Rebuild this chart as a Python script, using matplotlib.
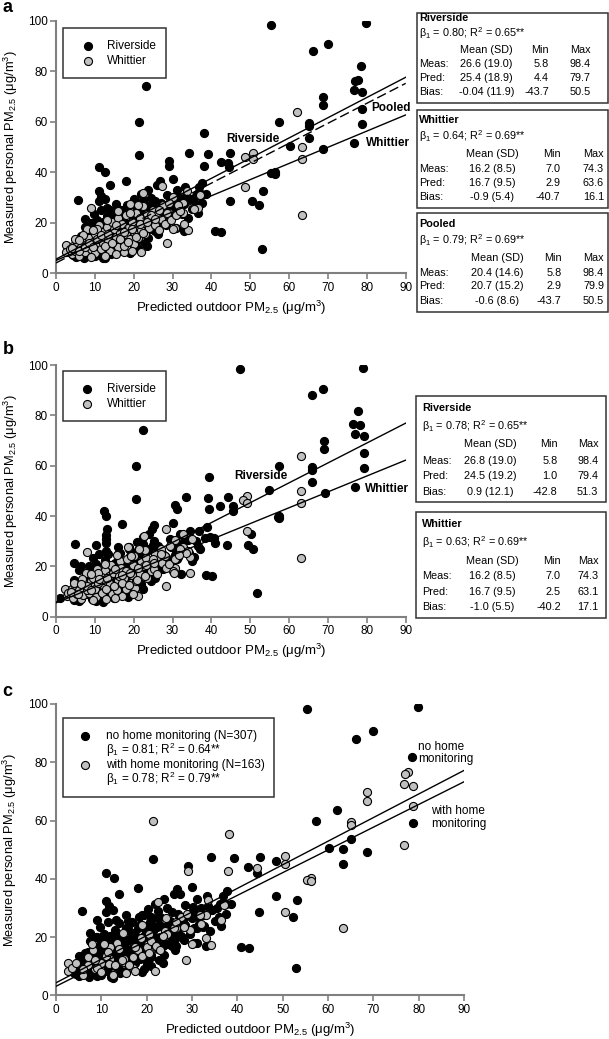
import matplotlib

matplotlib.use("Agg")
import matplotlib.pyplot as plt
from matplotlib.patches import Rectangle

plt.rcParams["font.family"] = ["Liberation Sans", "DejaVu Sans"]
plt.rcParams["mathtext.fontset"] = "custom"
plt.rcParams["mathtext.rm"] = "Liberation Sans"
plt.rcParams["mathtext.it"] = "Liberation Sans:italic"
plt.rcParams["mathtext.bf"] = "Liberation Sans:bold"

W, H = 609, 1039

# subjects: (predicted in a, predicted in b, measured, home monitoring)
riverside_outliers = [
    (55.3, 47.3, 98.3, 0), (79.8, 78.9, 98.9, 0), (70.0, 68.6, 90.6, 0),
    (66.1, 65.8, 88.0, 0), (78.5, 77.7, 81.9, 0), (77.6, 76.5, 76.5, 1),
    (77.0, 78.2, 76.1, 1), (76.8, 77.0, 72.6, 1), (78.7, 79.2, 71.8, 1),
    (68.7, 69.1, 69.7, 1), (68.7, 69.1, 66.6, 1), (78.8, 79.3, 65.0, 1),
    (57.3, 57.3, 59.8, 0), (65.0, 66.0, 59.6, 1), (65.0, 66.0, 58.4, 1),
    (78.7, 79.3, 59.2, 0), (21.4, 20.6, 60.0, 1), (23.1, 22.3, 74.0, 0),
    (21.3, 20.5, 46.8, 0), (38.1, 39.5, 55.4, 1), (60.2, 54.7, 50.4, 0),
    (65.0, 65.9, 53.6, 0), (68.7, 69.2, 49.2, 0), (76.8, 77.0, 51.5, 1),
    (34.3, 33.4, 47.6, 0), (39.2, 39.2, 47.2, 0), (44.9, 44.2, 47.6, 0),
    (42.4, 42.2, 44.1, 0), (44.3, 45.5, 43.8, 1), (44.4, 45.5, 42.1, 0),
    (38.0, 39.5, 42.6, 1), (29.1, 30.6, 44.5, 0), (29.2, 31.1, 42.6, 1),
    (30.0, 30.2, 37.2, 0), (26.7, 25.2, 36.4, 0), (26.1, 24.6, 34.8, 0),
    (56.3, 57.4, 40.1, 1), (55.3, 57.2, 39.6, 1), (56.3, 57.5, 39.2, 1),
    (50.5, 49.4, 28.5, 1), (53.2, 50.3, 32.7, 0), (52.2, 50.8, 26.9, 0),
    (44.7, 44.1, 28.5, 0), (40.8, 38.5, 16.6, 0), (42.5, 40.1, 16.2, 0),
    (52.9, 51.8, 9.5, 0), (11.0, 12.4, 42.0, 0), (12.7, 12.9, 40.1, 0),
    (13.9, 13.1, 34.8, 0), (5.7, 5.0, 28.9, 0), (18.0, 17.0, 36.7, 0),
    (15.5, 16.0, 27.6, 0), (8.8, 6.5, 20.1, 0), (11.1, 12.8, 32.5, 0),
    (11.7, 12.8, 30.7, 0), (11.0, 10.3, 28.5, 0), (12.6, 12.8, 29.4, 0),
    (14.0, 13.5, 24.9, 0), (37.7, 38.8, 35.8, 0), (36.8, 36.8, 34.0, 0),
    (33.2, 34.5, 34.2, 0), (36.2, 40.6, 31.4, 0), (37.4, 38.4, 31.4, 0),
    (34.5, 41.0, 29.4, 0), (36.5, 35.5, 23.7, 0), (33.0, 32.1, 16.8, 0),
    (25.5, 24.7, 16.8, 0), (26.2, 25.6, 15.4, 0), (23.5, 22.3, 11.0, 0),
    (21.0, 20.0, 9.9, 0), (12.2, 10.3, 6.2, 0), (5.1, 4.6, 6.6, 0),
    (4.4, 1.0, 7.4, 0), (7.2, 6.0, 6.2, 0), (22.5, 22.5, 29.0, 0),
    (22.5, 21.0, 26.4, 0), (23.8, 24.0, 33.0, 0), (23.1, 23.0, 23.7, 0),
    (30.2, 31.0, 29.0, 0), (31.1, 32.0, 33.0, 0), (7.5, 4.6, 21.5, 0),
    (6.5, 4.6, 14.6, 0), (28.2, 27.5, 19.0, 0), (31.0, 30.5, 17.8, 0),
    (26.2, 25.0, 19.2, 0), (32.5, 31.5, 23.6, 0),
]
riverside_cluster = [
    (6.0, 5.5, 13.5, 0), (7.0, 6.2, 10.5, 1), (7.5, 7.0, 14.6, 0), (8.0, 7.8, 12.0, 0),
    (8.5, 8.0, 9.0, 1), (9.0, 8.6, 16.0, 0), (9.5, 9.8, 13.0, 0), (10.0, 9.5, 18.5, 0),
    (10.0, 10.5, 11.0, 1), (10.5, 10.2, 21.0, 0), (10.8, 11.5, 14.0, 0), (11.2, 10.8, 8.5, 0),
    (11.5, 12.0, 17.0, 0), (12.0, 11.6, 12.5, 1), (12.0, 12.6, 20.5, 0), (12.5, 12.0, 15.5, 0),
    (13.0, 13.5, 10.0, 0), (13.0, 12.5, 22.5, 0), (13.5, 14.0, 18.0, 1), (13.8, 13.2, 13.5, 0),
    (14.2, 14.8, 7.5, 0), (14.5, 14.0, 20.0, 0), (15.0, 15.5, 16.0, 0), (15.0, 14.5, 11.5, 1),
    (15.5, 16.2, 23.0, 0), (16.0, 15.5, 19.0, 0), (16.2, 16.8, 14.0, 0), (16.8, 16.0, 25.0, 0),
    (17.0, 17.6, 9.5, 1), (17.2, 16.5, 21.5, 0), (17.5, 18.2, 17.0, 0), (18.0, 17.5, 12.5, 0),
    (18.5, 19.0, 24.0, 0), (18.8, 18.2, 19.5, 1), (19.0, 19.6, 15.0, 0), (19.5, 18.8, 27.5, 0),
    (19.8, 20.5, 22.0, 0), (20.0, 19.5, 10.5, 0), (20.3, 21.0, 17.5, 1), (20.8, 20.0, 25.0, 0),
    (21.0, 21.8, 13.0, 0), (21.5, 21.0, 20.5, 0), (21.8, 22.5, 31.5, 0), (22.0, 21.2, 16.5, 1),
    (22.3, 23.0, 23.5, 0), (22.8, 22.0, 12.0, 0), (23.0, 23.8, 27.0, 0), (23.3, 22.6, 19.0, 0),
    (23.8, 24.5, 14.0, 0), (24.0, 23.2, 22.0, 1), (24.5, 25.2, 30.0, 0), (24.8, 24.0, 17.5, 0),
    (25.2, 26.0, 25.5, 0), (25.8, 25.0, 21.0, 0), (26.5, 27.2, 23.0, 1), (27.0, 26.2, 28.0, 0),
    (27.5, 28.3, 20.5, 0), (28.0, 27.2, 25.5, 0), (28.5, 29.3, 31.0, 0), (29.5, 28.8, 22.5, 1),
    (30.0, 30.8, 26.5, 0), (31.5, 30.6, 24.5, 0), (32.0, 33.0, 30.0, 0), (33.0, 32.2, 27.5, 1),
    (34.0, 35.0, 22.0, 0), (35.0, 34.2, 25.5, 0), (36.0, 37.0, 27.0, 0), (37.5, 36.6, 28.0, 0),
    (38.5, 39.6, 31.5, 0), (10.0, 9.2, 7.0, 0), (12.5, 12.0, 6.0, 0), (15.5, 15.0, 8.5, 0),
    (19.0, 18.5, 8.0, 0), (7.5, 6.0, 18.5, 0), (9.0, 8.5, 20.0, 0),
    (6.5, 6.0, 11.0, 0), (8.2, 7.5, 15.5, 1), (9.2, 9.0, 10.0, 0), (10.3, 10.0, 16.0, 0),
    (11.8, 11.2, 10.8, 1), (12.8, 13.2, 17.5, 0), (14.0, 14.5, 14.5, 0), (14.8, 15.2, 21.5, 1),
    (16.5, 16.0, 11.0, 0), (17.8, 17.2, 20.0, 0), (19.2, 20.0, 17.5, 0), (20.5, 20.0, 21.0, 1),
    (21.2, 21.8, 24.0, 0), (22.5, 22.0, 19.5, 0), (23.5, 24.2, 17.0, 0), (24.2, 24.8, 26.5, 1),
    (25.5, 25.0, 28.5, 0), (26.0, 26.6, 20.5, 0), (27.2, 28.0, 24.0, 0), (29.0, 29.6, 27.5, 0),
    (30.5, 31.2, 23.0, 0), (31.8, 31.0, 27.5, 1), (33.5, 34.0, 30.5, 0), (35.5, 36.0, 30.0, 0),
    (13.2, 12.8, 26.0, 0), (15.8, 16.5, 25.5, 0), (18.2, 18.8, 27.0, 0), (20.2, 20.8, 29.5, 0),
    (9.8, 9.4, 23.5, 0), (11.5, 11.0, 25.0, 0),
]
whittier_outliers = [
    (62.0, 63.1, 63.7, 0), (63.2, 63.1, 50.1, 0), (63.3, 63.1, 45.1, 0),
    (63.3, 63.1, 23.2, 1), (50.6, 49.1, 47.8, 1), (48.6, 48.0, 46.2, 0),
    (50.6, 49.1, 45.1, 1), (48.6, 49.2, 34.0, 0), (28.6, 28.3, 12.0, 1),
    (27.3, 28.3, 34.7, 0), (22.5, 22.7, 31.9, 1), (9.0, 8.1, 25.7, 0),
    (33.6, 32.6, 32.7, 1), (32.6, 32.8, 27.7, 0), (32.6, 34.5, 23.7, 0),
    (34.1, 34.5, 17.2, 1), (30.2, 30.5, 30.3, 0), (21.8, 21.0, 8.4, 1),
    (2.7, 2.4, 11.1, 1), (2.7, 2.9, 8.3, 1), (17.5, 17.0, 8.4, 1),
    (37.0, 35.0, 31.0, 1), (36.5, 34.0, 26.0, 1), (35.5, 33.5, 25.5, 0),
    (28.2, 27.0, 23.6, 1), (33.0, 30.5, 19.5, 1), (30.5, 30.0, 18.0, 0),
]
whittier_cluster = [
    (3.5, 3.2, 9.5, 1), (4.0, 4.4, 7.5, 0), (4.5, 4.0, 11.0, 1), (5.0, 5.3, 9.0, 0),
    (5.5, 5.0, 12.5, 0), (6.0, 6.4, 7.0, 1), (6.5, 6.0, 10.5, 0), (7.0, 7.4, 13.0, 1),
    (7.5, 7.0, 8.5, 0), (8.0, 8.4, 11.5, 0), (8.0, 7.6, 17.5, 1), (8.5, 8.9, 14.0, 0),
    (9.0, 8.6, 9.5, 1), (9.5, 9.9, 12.5, 0), (10.0, 9.6, 15.5, 0), (10.0, 10.4, 8.0, 1),
    (10.5, 10.1, 11.0, 0), (11.0, 11.4, 13.5, 1), (11.0, 10.6, 19.0, 0), (11.5, 11.9, 9.5, 0),
    (12.0, 11.6, 16.5, 1), (12.0, 12.4, 12.0, 0), (12.5, 12.1, 14.5, 0), (13.0, 13.4, 10.5, 1),
    (13.0, 12.6, 18.5, 0), (13.5, 13.9, 13.0, 0), (14.0, 13.6, 16.0, 1), (14.0, 14.4, 9.0, 0),
    (14.5, 14.1, 20.5, 0), (15.0, 15.4, 12.5, 1), (15.0, 14.6, 17.5, 0), (15.5, 15.9, 14.5, 0),
    (16.0, 15.6, 10.5, 1), (16.0, 16.4, 22.0, 0), (16.5, 16.1, 16.0, 0), (17.0, 17.4, 13.0, 1),
    (17.0, 16.6, 19.5, 0), (17.5, 17.9, 11.0, 0), (18.0, 17.6, 15.5, 1), (18.0, 18.4, 23.0, 0),
    (18.5, 18.1, 18.0, 0), (19.0, 19.4, 13.5, 1), (19.0, 18.6, 27.5, 0), (19.5, 19.9, 20.5, 0),
    (20.0, 19.6, 16.5, 1), (20.0, 20.4, 11.5, 0), (20.5, 20.1, 24.0, 0), (21.0, 21.4, 18.5, 1),
    (21.0, 20.6, 14.0, 0), (21.5, 21.9, 22.0, 0), (22.0, 21.6, 17.0, 1), (22.5, 22.9, 26.5, 0),
    (23.0, 22.6, 20.0, 0), (23.0, 23.4, 15.5, 1), (23.5, 23.1, 23.5, 0), (24.0, 24.4, 18.0, 0),
    (24.5, 24.1, 21.0, 1), (25.0, 25.4, 25.0, 0), (25.5, 25.1, 19.0, 0), (26.0, 26.4, 23.0, 1),
    (26.5, 26.1, 17.0, 0), (27.0, 27.4, 21.5, 0), (27.5, 27.1, 27.0, 1), (28.0, 28.4, 19.5, 0),
    (28.5, 28.1, 24.0, 0), (29.0, 29.4, 28.0, 1), (29.5, 29.1, 21.0, 0), (30.0, 30.4, 17.5, 1),
    (31.0, 30.6, 23.0, 0), (31.5, 31.9, 27.0, 0), (32.0, 31.6, 24.5, 1), (12.5, 12.9, 7.0, 1),
    (9.0, 9.4, 6.5, 0), (15.5, 15.1, 7.5, 1), (19.5, 19.9, 9.0, 0), (7.0, 6.6, 15.0, 0),
    (10.5, 10.9, 17.5, 1), (5.0, 4.6, 13.5, 0),
    (4.0, 3.8, 10.0, 0), (6.0, 5.6, 9.0, 1), (7.5, 7.9, 10.5, 0), (8.5, 8.1, 12.0, 1),
    (9.5, 9.1, 10.5, 0), (10.5, 10.9, 13.5, 0), (11.5, 11.1, 15.0, 1), (12.5, 12.9, 11.0, 0),
    (13.5, 13.1, 15.5, 0), (14.5, 14.9, 12.0, 1), (15.5, 15.1, 19.0, 0), (16.5, 16.9, 13.5, 0),
    (17.5, 17.1, 16.5, 1), (18.5, 18.9, 12.5, 0), (19.5, 19.1, 17.5, 0), (20.5, 20.9, 14.5, 1),
    (21.5, 21.1, 19.5, 0), (22.5, 22.9, 16.0, 0), (23.5, 23.1, 20.5, 1), (24.5, 24.9, 23.0, 0),
    (25.5, 25.1, 21.5, 0), (26.5, 26.9, 25.0, 1), (13.0, 12.6, 21.0, 0), (16.0, 15.6, 24.5, 0),
    (19.0, 19.4, 24.0, 1), (21.0, 21.4, 27.0, 0), (9.5, 9.1, 17.0, 0), (6.0, 6.4, 13.0, 0),
]

# regression lines (intercept, slope)
fit_a_riverside = (5.6, 0.80)
fit_a_whittier = (5.1, 0.64)
fit_a_pooled = (4.1, 0.79)
fit_b_riverside = (5.8, 0.79)
fit_b_whittier = (5.5, 0.63)
fit_c_nohome = (4.3, 0.81)
fit_c_home = (3.1, 0.78)

row_names = ["Meas:", "Pred:", "Bias:"]
col_names = ["Mean (SD)", "Min", "Max"]
riverside_a_stats = [["26.6 (19.0)", "5.8", "98.4"], ["25.4 (18.9)", "4.4", "79.7"],
                     ["-0.04 (11.9)", "-43.7", "50.5"]]
whittier_a_stats = [["16.2 (8.5)", "7.0", "74.3"], ["16.7 (9.5)", "2.9", "63.6"],
                    ["-0.9 (5.4)", "-40.7", "16.1"]]
pooled_a_stats = [["20.4 (14.6)", "5.8", "98.4"], ["20.7 (15.2)", "2.9", "79.9"],
                  ["-0.6 (8.6)", "-43.7", "50.5"]]
riverside_b_stats = [["26.8 (19.0)", "5.8", "98.4"], ["24.5 (19.2)", "1.0", "79.4"],
                     ["0.9 (12.1)", "-42.8", "51.3"]]
whittier_b_stats = [["16.2 (8.5)", "7.0", "74.3"], ["16.7 (9.5)", "2.5", "63.1"],
                    ["-1.0 (5.5)", "-40.2", "17.1"]]

GRAY = "#c0c0c0"
XLAB = "Predicted outdoor PM$_{2.5}$ (μg/m$^3$)"
YLAB = "Measured personal PM$_{2.5}$ (μg/m$^3$)"
FS = 7.8

fig = plt.figure(figsize=(W / 100, H / 100), dpi=100)


def add_axes(left, top, right, bottom):
    ax = fig.add_axes([left / W, 1 - bottom / H, (right - left) / W, (bottom - top) / H])
    ax.set_xlim(0, 90)
    ax.set_ylim(0, 100)
    ax.set_xticks(range(0, 91, 10))
    ax.set_yticks(range(0, 101, 20))
    for s in ["top", "right"]:
        ax.spines[s].set_visible(False)
    for s in ["left", "bottom"]:
        ax.spines[s].set_color("#808080")
        ax.spines[s].set_linewidth(1.5)
    ax.tick_params(direction="out", length=4, width=1.2, color="#808080",
                   labelsize=8.5, pad=2)
    ax.set_xlabel(XLAB, fontsize=9.5)
    ax.set_ylabel(YLAB, fontsize=9.3)
    return ax


def scatter(ax, x, y, face):
    ax.scatter(x, y, s=34, c=face, edgecolors="black", linewidths=0.8, zorder=2)


def fit_line(ax, fit, **kw):
    a, b = fit
    ax.plot([0, 90], [a, a + b * 90], color="black", lw=1.0, zorder=3, **kw)


def fx(px):
    return px / W


def fy(py):
    return 1 - py / H


def box(left, top, right, bottom, fill=False):
    fig.patches.append(Rectangle((fx(left), fy(bottom)), fx(right) - fx(left),
                                 fy(top) - fy(bottom), transform=fig.transFigure,
                                 fill=fill, facecolor="white", edgecolor="#333333",
                                 lw=1.1))


def key(rows, left, top, right, bottom, mx, tx):
    box(left, top, right, bottom, fill=True)
    for py, face, label in rows:
        if face is not None:
            fig.lines.append(plt.Line2D([fx(mx)], [fy(py)], transform=fig.transFigure,
                                        marker="o", ms=5.8, mfc=face, mec="black",
                                        mew=0.8, ls="none"))
        fig.text(fx(tx), fy(py), label, fontsize=8.5, va="center", ha="left")


def table(title, fit_text, stats, frame, ys, cols):
    box(*frame)
    lx, mean_x, min_x, max_x = cols
    fig.text(fx(lx), fy(ys[0]), title, fontsize=FS, weight="bold", va="center")
    fig.text(fx(lx), fy(ys[1]), fit_text, fontsize=FS, va="center")
    fig.text(fx(mean_x), fy(ys[2]), col_names[0], fontsize=FS, va="center", ha="center")
    fig.text(fx(min_x), fy(ys[2]), col_names[1], fontsize=FS, va="center", ha="right")
    fig.text(fx(max_x), fy(ys[2]), col_names[2], fontsize=FS, va="center", ha="right")
    for name, vals, py in zip(row_names, stats, ys[3:]):
        fig.text(fx(lx), fy(py), name, fontsize=FS, va="center")
        fig.text(fx(mean_x), fy(py), vals[0], fontsize=FS, va="center", ha="center")
        fig.text(fx(min_x), fy(py), vals[1], fontsize=FS, va="center", ha="right")
        fig.text(fx(max_x), fy(py), vals[2], fontsize=FS, va="center", ha="right")


riverside = riverside_outliers + riverside_cluster
whittier = whittier_outliers + whittier_cluster
rs_xa, rs_xb, rs_y, rs_home = zip(*riverside)
wh_xa, wh_xb, wh_y, wh_home = zip(*whittier)

lab = dict(fontsize=8.5, weight="bold", va="center", clip_on=False)

# ---- panel a
ax = add_axes(56, 20.7, 405.7, 273.3)
ax.yaxis.set_label_coords(-0.104, 0.5)
ax.xaxis.set_label_coords(0.5, -0.1)
scatter(ax, rs_xa, rs_y, "black")
scatter(ax, wh_xa, wh_y, GRAY)
fit_line(ax, fit_a_riverside)
fit_line(ax, fit_a_pooled, ls=(0, (7, 3)))
fit_line(ax, fit_a_whittier)
ax.text(43.8, 53.2, "Riverside", **lab)
ax.text(81.2, 65.3, "Pooled", **lab)
ax.text(79.7, 51.7, "Whittier", **lab)
key([(45.7, "black", "Riverside"), (61.3, GRAY, "Whittier")], 63.3, 28.3, 166, 78.3, 87.7, 106.7)
fig.text(0.004, fy(7), "a", fontsize=13, weight="bold", va="center")

table("Riverside", "β$_1$ = 0.80; R$^2$ = 0.65**", riverside_a_stats,
      (416.7, 12.7, 608, 103.3), (18.3, 33.3, 50.3, 63.7, 77.7, 91.7),
      (419, 486.5, 549, 590.5))
table("Whittier", "β$_1$ = 0.64; R$^2$ = 0.69**", whittier_a_stats,
      (416.7, 110, 608, 208.3), (120.3, 135.7, 153.7, 169.5, 183, 197),
      (419, 492, 560.5, 604))
table("Pooled", "β$_1$ = 0.79; R$^2$ = 0.69**", pooled_a_stats,
      (416.7, 213.3, 608, 311.7), (224.3, 240.5, 258, 272.7, 286, 300.7),
      (419, 497, 561.7, 604))

# ---- panel b
ax = add_axes(56, 365, 405.7, 616.7)
ax.yaxis.set_label_coords(-0.104, 0.5)
ax.xaxis.set_label_coords(0.5, -0.1)
scatter(ax, rs_xb, rs_y, "black")
scatter(ax, wh_xb, wh_y, GRAY)
fit_line(ax, fit_b_riverside)
fit_line(ax, fit_b_whittier)
ax.text(45.8, 55.9, "Riverside", **lab)
ax.text(79.5, 50.6, "Whittier", **lab)
key([(388.7, "black", "Riverside"), (404.3, GRAY, "Whittier")], 63.3, 371, 166, 421, 87.3, 106.7)
fig.text(0.004, fy(350), "b", fontsize=13, weight="bold", va="center")

table("Riverside", "β$_1$ = 0.78; R$^2$ = 0.65**", riverside_b_stats,
      (416, 395.7, 606, 501.7), (408.3, 425.7, 444.3, 460.7, 476, 491.7),
      (422.3, 490.3, 557.7, 598.3))
table("Whittier", "β$_1$ = 0.63; R$^2$ = 0.69**", whittier_b_stats,
      (416, 511.7, 606, 617.7), (524.3, 541.7, 561, 576, 591.7, 607.3),
      (422.3, 492.2, 561, 598.3))

# ---- panel c
ax = add_axes(56, 704, 464, 995.3)
ax.yaxis.set_label_coords(-0.09, 0.5)
ax.xaxis.set_label_coords(0.5, -0.088)
all_x = rs_xa + wh_xa
all_y = rs_y + wh_y
all_home = rs_home + wh_home
scatter(ax, [x for x, h in zip(all_x, all_home) if not h],
        [y for y, h in zip(all_y, all_home) if not h], "black")
scatter(ax, [x for x, h in zip(all_x, all_home) if h],
        [y for y, h in zip(all_y, all_home) if h], GRAY)
fit_line(ax, fit_c_nohome)
fit_line(ax, fit_c_home)
key([(735.7, "black", "no home monitoring (N=307)"),
     (750, None, "β$_1$ = 0.81; R$^2$ = 0.64**"),
     (765.3, GRAY, "with home monitoring (N=163)"),
     (779.3, None, "β$_1$ = 0.78; R$^2$ = 0.79**")],
    62.7, 718.3, 274, 796.7, 85, 106)
fig.text(fx(418.3), fy(753), "no home\nmonitoring", fontsize=8.5, va="center", linespacing=1.1)
fig.text(fx(430.7), fy(817.6), "with home\nmonitoring", fontsize=8.5, va="center", linespacing=1.1)
fig.text(0.004, fy(691), "c", fontsize=13, weight="bold", va="center")

fig.savefig("out.png", dpi=100)
